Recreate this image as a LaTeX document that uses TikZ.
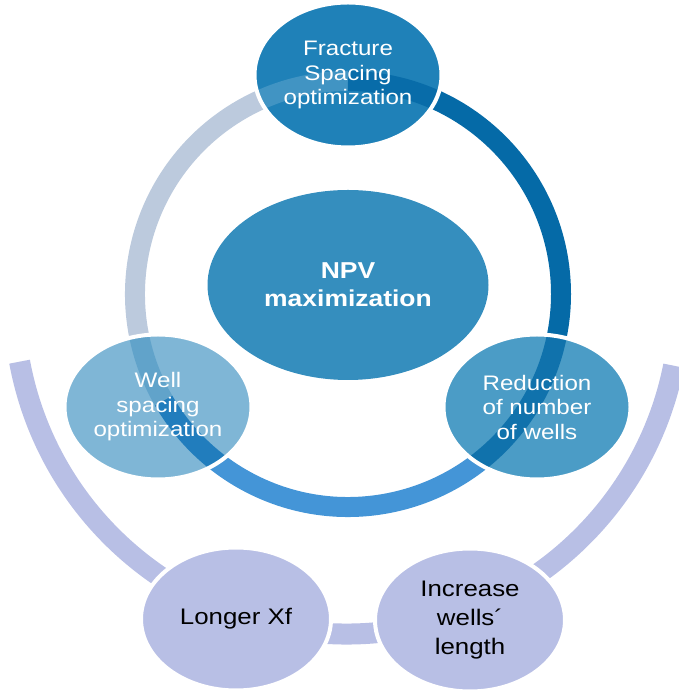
\documentclass[tikz,border=0pt]{standalone}
\usepackage{fontspec}
\newfontfamily\dgfont[FakeStretch=1.15]{Liberation Sans}
\usetikzlibrary{shapes.geometric}
\definecolor{topblue}{HTML}{1F81B8}
\definecolor{midblue}{HTML}{358EBE}
\definecolor{rightblue}{HTML}{4B9CC6}
\definecolor{leftblue}{HTML}{7FB6D6}
\definecolor{darkarc}{HTML}{056AA7}
\definecolor{bluearc}{HTML}{4495D7}
\definecolor{greyarc}{HTML}{BCCADD}
\definecolor{lavender}{HTML}{B8BFE5}
\tikzset{
  ring/.style={
    line width=20pt,
  },
  outring/.style={
    line width=21pt,
    draw=lavender,
  },
  cnode/.style={
    ellipse,
    draw=white,
    line width=4pt,
    inner sep=0,
    minimum width=187pt,
    minimum height=145pt,
    text=white,
    align=center,
    font=\dgfont\fontsize{21}{24.5}\selectfont,
  },
  bnode/.style={
    cnode,
    fill=lavender,
    text=black,
    minimum width=190pt,
    minimum height=143pt,
    font=\dgfont\fontsize{22.5}{29}\selectfont,
  },
  mainnode/.style={
    ellipse,
    inner sep=0,
    fill=midblue,
    minimum width=281pt,
    minimum height=190pt,
    text=white,
    align=center,
    font=\dgfont\bfseries\fontsize{23}{28}\selectfont,
  },
}
% colour, from angle, to angle
\newcommand{\ringpart}[3]{%
  \draw[ring,#1] ([shift={(#2:213)}]ic) arc[start angle=#2, end angle=#3, radius=213];
}

\begin{document}
\begin{tikzpicture}[x=1pt,y=1pt]
  \useasboundingbox (0,0) rectangle (679,690);
  \coordinate (ic) at (348,396);
  \coordinate (oc) at (347,389);

  % outer ring
  \draw[outring] ([shift={(190.5:333)}]oc) arc[start angle=190.5, end angle=348.8, radius=333];
  \node[bnode] at (236,71) (xf) {Longer Xf};
  \node[bnode] at (470,70) (len) {Increase\\wells´\\length};

  % inner ring
  \ringpart{darkarc}{90}{-30}
  \ringpart{bluearc}{-30}{-150}
  \ringpart{greyarc}{210}{90}

  \node[mainnode] at (348,405) (npv) {NPV\\maximization};

  \node[cnode,fill=topblue,path picture={
      \ringpart{color=topblue!85!white}{125}{90}
      \ringpart{color=darkarc!90!topblue}{90}{55}
    }] at (348,615) (frac) {Fracture\\Spacing\\optimization};
  \node[cnode,fill=rightblue,path picture={
      \ringpart{color=darkarc!85!rightblue}{5}{-65}
    }] at (537,283) (red) {Reduction\\of number\\of wells};
  \node[cnode,fill=leftblue,path picture={
      \ringpart{color=darkarc!55!bluearc}{245}{210}
      \ringpart{color=leftblue!75!darkarc}{210}{175}
    }] at (158,283) (well) {Well\\spacing\\optimization};
\end{tikzpicture}
\end{document}
